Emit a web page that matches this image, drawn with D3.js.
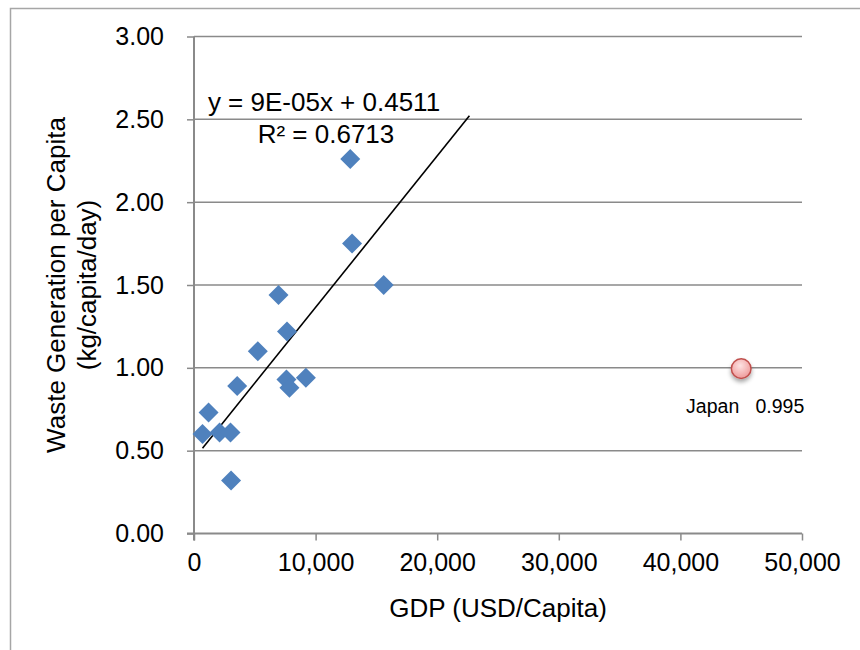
<!DOCTYPE html>
<html>
<head>
<meta charset="utf-8">
<script src="https://cdn.jsdelivr.net/npm/d3@7/dist/d3.min.js"></script>
<style>
  html, body { margin: 0; padding: 0; background: #fff; }
  svg { display: block; }
  text { font-family: "Liberation Sans", Arial, sans-serif; fill: #000; }
</style>
</head>
<body>
<svg id="chart" width="860" height="650"></svg>
<script>
// Per-country GDP (USD/capita) and municipal waste generation (kg/capita/day)
const gdp   = [12850, 13000, 15600, 6950, 7650, 5250, 3550, 7600, 7850, 9200, 1200, 700, 2100, 3000, 3050];
const waste = [2.26, 1.75, 1.50, 1.44, 1.22, 1.10, 0.89, 0.93, 0.88, 0.94, 0.73, 0.60, 0.61, 0.61, 0.32];

// Highlighted country
const highlightName = "Japan";
const highlightGdp = 45000;
const highlightWaste = 0.995;

// Linear trend line
const trendSlope = 0.0000914;
const trendIntercept = 0.4511;
const trendR2 = 0.6713;
const trendRange = [700, 22650];

// Axis ticks
const xTicks = [0, 10000, 20000, 30000, 40000, 50000];
const yTicks = [0, 0.5, 1.0, 1.5, 2.0, 2.5, 3.0];

const svg = d3.select("#chart");
const gridColor = "#8a8a8a";

const x = d3.scaleLinear().domain([0, 50000]).range([194, 802]);
const y = d3.scaleLinear().domain([0, 3]).range([533.5, 36.5]);

// outer chart frame
svg.append("rect")
  .attr("x", 10.5).attr("y", 8.5)
  .attr("width", 900).attr("height", 700)
  .attr("fill", "none").attr("stroke", "#a6a6a6").attr("stroke-width", 1.5);

const defs = svg.append("defs");
const grad = defs.append("radialGradient").attr("id", "pinkBall")
  .attr("cx", "45%").attr("cy", "35%").attr("r", "65%");
grad.append("stop").attr("offset", "0%").attr("stop-color", "#fde2e2");
grad.append("stop").attr("offset", "100%").attr("stop-color", "#ee9a9a");
const shadow = defs.append("filter").attr("id", "ballShadow")
  .attr("x", "-50%").attr("y", "-50%").attr("width", "200%").attr("height", "220%");
shadow.append("feDropShadow").attr("dx", 0).attr("dy", 3).attr("stdDeviation", 2)
  .attr("flood-color", "#000").attr("flood-opacity", 0.35);

// horizontal gridlines
svg.append("g").selectAll("line").data(yTicks.filter(d => d > 0)).join("line")
  .attr("x1", x(0)).attr("x2", x(50000))
  .attr("y1", d => y(d)).attr("y2", d => y(d))
  .attr("stroke", gridColor).attr("stroke-width", 1.5);

// y axis
const yAxis = d3.axisLeft(y).tickValues(yTicks).tickFormat(d3.format(".2f"))
  .tickSize(7).tickPadding(23);
const gy = svg.append("g").attr("transform", `translate(${x(0)},0)`).call(yAxis);
gy.select(".domain").attr("stroke", gridColor).attr("stroke-width", 2).attr("d", `M-7,${y(0)}H0V${y(3)}`);
gy.selectAll(".tick line").attr("stroke", gridColor).attr("stroke-width", 1.5);
gy.selectAll(".tick text").attr("font-size", 25).attr("font-family", "Liberation Sans, Arial, sans-serif").attr("fill", "#000");

// x axis
const xAxis = d3.axisBottom(x).tickValues(xTicks).tickFormat(d3.format(","))
  .tickSize(7).tickPadding(13);
const gx = svg.append("g").attr("transform", `translate(0,${y(0)})`).call(xAxis);
gx.select(".domain").attr("stroke", gridColor).attr("stroke-width", 2).attr("d", `M${x(0)},7V0H${x(50000)}`);
gx.selectAll(".tick line").attr("stroke", gridColor).attr("stroke-width", 1.5);
gx.selectAll(".tick text").attr("font-size", 25).attr("font-family", "Liberation Sans, Arial, sans-serif").attr("fill", "#000");

// axis titles
svg.append("text").attr("x", (x(0) + x(50000)) / 2).attr("y", 617)
  .attr("text-anchor", "middle").attr("font-size", 26).text("GDP (USD/Capita)");
const yt = svg.append("text").attr("transform", "translate(0,285) rotate(-90)")
  .attr("text-anchor", "middle").attr("font-size", 26);
yt.append("tspan").attr("x", 0).attr("y", 65).text("Waste Generation per Capita");
yt.append("tspan").attr("x", 0).attr("y", 96).text("(kg/capita/day)");

// trend line
const trend = d3.line().x(d => x(d)).y(d => y(trendSlope * d + trendIntercept));
svg.append("path").attr("d", trend(trendRange))
  .attr("fill", "none").attr("stroke", "#000").attr("stroke-width", 1.6);

// data diamonds
const points = gdp.map((g, i) => ({ g, w: waste[i] }));
const r = 10;
svg.append("g").selectAll("path").data(points).join("path")
  .attr("d", d => {
    const cx = x(d.g), cy = y(d.w);
    return `M${cx},${cy - r}L${cx + r},${cy}L${cx},${cy + r}L${cx - r},${cy}Z`;
  })
  .attr("fill", "#4f81bd");

// highlighted country
svg.append("circle")
  .attr("cx", x(highlightGdp)).attr("cy", y(highlightWaste)).attr("r", 9.8)
  .attr("fill", "url(#pinkBall)").attr("stroke", "#c0504d").attr("stroke-width", 1.5)
  .attr("filter", "url(#ballShadow)");
svg.append("text")
  .attr("x", x(highlightGdp) + 4).attr("y", y(highlightWaste) + 44)
  .attr("text-anchor", "middle").attr("font-size", 19.5)
  .style("white-space", "pre")
  .text(`${highlightName}   ${highlightWaste}`);

// trend equation
const slopeText = trendSlope.toExponential(0).replace("e-", "E-0").toUpperCase();
svg.append("text").attr("x", 324).attr("y", 111).attr("text-anchor", "middle")
  .attr("font-size", 26).text(`y = ${slopeText}x + ${trendIntercept}`);
svg.append("text").attr("x", 326).attr("y", 143).attr("text-anchor", "middle")
  .attr("font-size", 26).text(`R² = ${trendR2}`);
</script>
</body>
</html>
